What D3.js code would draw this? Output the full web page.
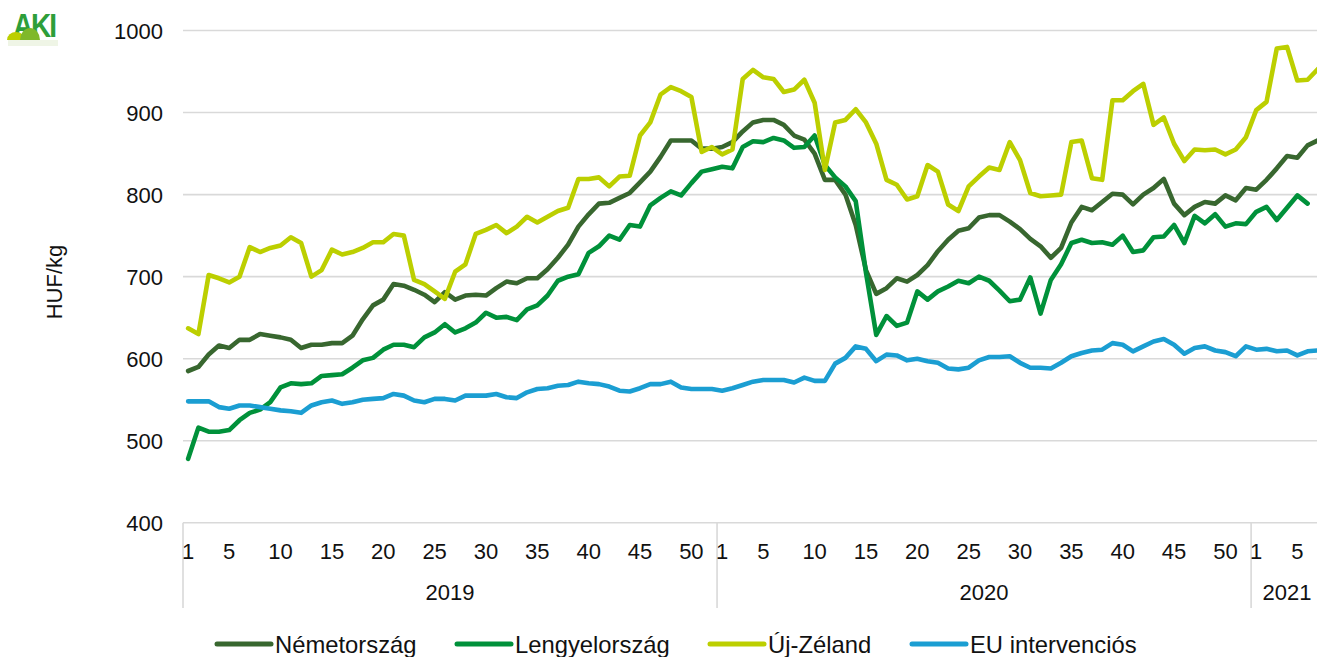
<!DOCTYPE html>
<html>
<head>
<meta charset="utf-8">
<script src="https://cdn.jsdelivr.net/npm/d3@7.9.0/dist/d3.min.js"></script>
<style>
  html, body { margin: 0; padding: 0; background: #fff; }
  svg { display: block; overflow: hidden; font-family: "Liberation Sans", Arial, sans-serif; }
</style>
</head>
<body>
<svg id="chart" width="1317" height="657"></svg>
<script>
// categories: weeks in each year
const years = ['2019', '2020', '2021'];
const weeksPerYear = [52, 52, 7];
const shownWeeks = [1, 5, 10, 15, 20, 25, 30, 35, 40, 45, 50];
const yTicks = [400, 500, 600, 700, 800, 900, 1000];

const nemetorszag = [
  585, 590, 605, 616, 613, 623, 623, 630, 628, 626, 623, 613, 617, 617, 619, 619, 628, 648, 665, 672, 691, 689,
  684, 678, 669, 681, 672, 677, 678, 677, 686, 694, 692, 698, 698, 709, 723, 739, 761, 776, 789, 790, 796, 802,
  815, 828, 846, 866, 866, 866, 856, 856, 858, 864, 877, 888, 891, 891, 885, 872, 867, 850, 818, 818, 800, 763,
  708, 679, 686, 698, 694, 702, 714, 731, 745, 756, 759, 772, 775, 775, 767, 758, 746, 737, 723, 735, 766, 785,
  781, 791, 801, 800, 788, 800, 808, 819, 789, 775, 785, 791, 789, 799, 793, 808, 806, 818, 832, 847, 845, 860, 866
];
const lengyelorszag = [
  478, 516, 511, 511, 513, 525, 534, 538, 547, 565, 570, 569, 570, 579, 580, 581, 589, 598, 601, 611, 617, 617,
  614, 626, 632, 642, 632, 637, 644, 656, 650, 651, 647, 660, 665, 677, 695, 700, 703, 729, 737, 750, 745, 763,
  761, 787, 796, 804, 799, 814, 828, 831, 834, 832, 858, 865, 864, 869, 866, 857, 858, 872, 836, 821, 810, 792,
  705, 629, 652, 640, 644, 682, 672, 682, 688, 695, 692, 700, 695, 683, 670, 672, 699, 655, 696, 715, 741, 745,
  741, 742, 739, 750, 730, 732, 748, 749, 763, 741, 774, 765, 776, 761, 765, 764, 779, 785, 769, 784, 799, 789
];
const ujZeland = [
  637, 630, 702, 698, 693, 700, 736, 730, 735, 738, 748, 741, 700, 708, 733, 727, 730, 735, 742, 742, 752, 750,
  696, 691, 682, 673, 706, 715, 752, 757, 763, 753, 761, 773, 766, 773, 780, 784, 819, 819, 821, 810, 822, 823,
  872, 888, 922, 931, 926, 919, 852, 858, 849, 855, 941, 952, 943, 941, 925, 928, 940, 912, 830, 888, 891, 904,
  888, 862, 818, 812, 794, 798, 836, 828, 788, 780, 810, 822, 833, 830, 864, 842, 802, 798, 799, 800, 864, 866,
  820, 818, 915, 915, 926, 935, 885, 894, 862, 841, 855, 854, 855, 849, 855, 870, 903, 913, 978, 980, 939, 940, 953
];
const euIntervencios = [
  548, 548, 548, 541, 539, 543, 543, 541, 539, 537, 536, 534, 543, 547, 549, 545, 547, 550, 551, 552, 557, 555,
  549, 547, 551, 551, 549, 555, 555, 555, 557, 553, 552, 559, 563, 564, 567, 568, 572, 570, 569, 566, 561, 560,
  564, 569, 569, 572, 565, 563, 563, 563, 561, 564, 568, 572, 574, 574, 574, 571, 577, 573, 573, 594, 601, 615,
  612, 597, 605, 604, 598, 600, 597, 595, 588, 587, 589, 598, 602, 602, 603, 595, 589, 589, 588, 595, 603, 607,
  610, 611, 619, 617, 609, 615, 621, 624, 617, 606, 613, 615, 610, 608, 603, 615, 611, 612, 609, 610, 604, 609, 610
];

const series = [
  { name: 'Németország', values: nemetorszag, color: '#38672f' },
  { name: 'Lengyelország', values: lengyelorszag, color: '#00913a' },
  { name: 'Új-Zéland', values: ujZeland, color: '#bccf00' },
  { name: 'EU intervenciós', values: euIntervencios, color: '#1b9ed2' }
];

// build the category list (year, week)
let categories = [];
years.forEach((yr, yi) => {
  for (let w = 1; w <= weeksPerYear[yi]; w++) categories.push({ year: yr, week: w });
});

const svg = d3.select('#chart');
const plotLeft = 183, plotRight = 1323, plotTop = 30.5, plotBottom = 522.8;

let x = d3.scaleBand().domain(d3.range(categories.length)).range([plotLeft, plotRight]).padding(0);
let y = d3.scaleLinear().domain([400, 1000]).range([plotBottom, plotTop]);
const cx = (i) => x(i) + x.bandwidth() / 2;

// gridlines
svg.append('g').selectAll('line').data(yTicks).join('line')
  .attr('x1', plotLeft).attr('x2', 1317)
  .attr('y1', d => y(d)).attr('y2', d => y(d))
  .attr('stroke', '#d9d9d9').attr('stroke-width', 1.6);

// y labels
svg.append('g').selectAll('text').data(yTicks).join('text')
  .attr('x', 163).attr('y', d => y(d) + 8)
  .attr('text-anchor', 'end')
  .attr('font-size', 22).attr('fill', '#111')
  .text(d => d);

svg.append('text')
  .attr('transform', 'translate(62,282) rotate(-90)')
  .attr('text-anchor', 'middle')
  .attr('font-size', 22).attr('fill', '#111')
  .text('HUF/kg');

// category axis: week labels, year labels, separators
const axisBottom = 608;
svg.append('line').attr('x1', plotLeft).attr('x2', plotLeft).attr('y1', plotBottom).attr('y2', axisBottom)
  .attr('stroke', '#d9d9d9').attr('stroke-width', 1.6);

let start = 0;
years.forEach((yr, yi) => {
  let n = weeksPerYear[yi];
  let x0 = x(start), x1 = x(start) + n * x.bandwidth();
  svg.append('line').attr('x1', x1).attr('x2', x1).attr('y1', plotBottom).attr('y2', axisBottom)
    .attr('stroke', '#d9d9d9').attr('stroke-width', 1.6);
  svg.append('text')
    .attr('x', (x0 + x1) / 2).attr('y', 600)
    .attr('text-anchor', 'middle')
    .attr('font-size', 22).attr('fill', '#111')
    .text(yr);
  shownWeeks.filter(w => w <= n).forEach(w => {
    svg.append('text')
      .attr('x', cx(start + w - 1)).attr('y', 559)
      .attr('text-anchor', 'middle')
      .attr('font-size', 22).attr('fill', '#111')
      .text(w);
  });
  start += n;
});

// lines
let line = d3.line().x((d, i) => cx(i)).y(d => y(d));
series.forEach(s => {
  svg.append('path')
    .attr('d', line(s.values))
    .attr('fill', 'none')
    .attr('stroke', s.color)
    .attr('stroke-width', 4.6)
    .attr('stroke-linejoin', 'round')
    .attr('stroke-linecap', 'round');
});

// legend
const legendX = [215, 455, 708, 910];
series.forEach((s, i) => {
  let g = svg.append('g').attr('transform', `translate(${legendX[i]},644)`);
  g.append('line').attr('x1', 2).attr('x2', 56).attr('y1', 0).attr('y2', 0)
    .attr('stroke', s.color).attr('stroke-width', 5).attr('stroke-linecap', 'round');
  g.append('text').attr('x', 60).attr('y', 8.5)
    .attr('font-size', 23.8).attr('fill', '#111')
    .text(s.name);
});

// AKI logo (rough)
let logo = svg.append('g');
logo.append('text').attr('x', 13).attr('y', 37)
  .attr('font-size', 33).attr('font-weight', 'bold').attr('fill', '#2e9e3a')
  .attr('letter-spacing', -2.5)
  .attr('transform', 'translate(13,37) scale(0.85,1) translate(-13,-37)')
  .text('AKI');
logo.append('ellipse').attr('cx', 16).attr('cy', 40).attr('rx', 9).attr('ry', 8).attr('fill', '#bccf00');
logo.append('ellipse').attr('cx', 30).attr('cy', 40).attr('rx', 10).attr('ry', 12).attr('fill', '#7fb82a');
logo.append('rect').attr('x', 5).attr('y', 40).attr('width', 56).attr('height', 12).attr('fill', '#fff');
logo.append('rect').attr('x', 8).attr('y', 40).attr('width', 50).attr('height', 6).attr('fill', '#e4efd6').attr('opacity', 0.6);
</script>
</body>
</html>
